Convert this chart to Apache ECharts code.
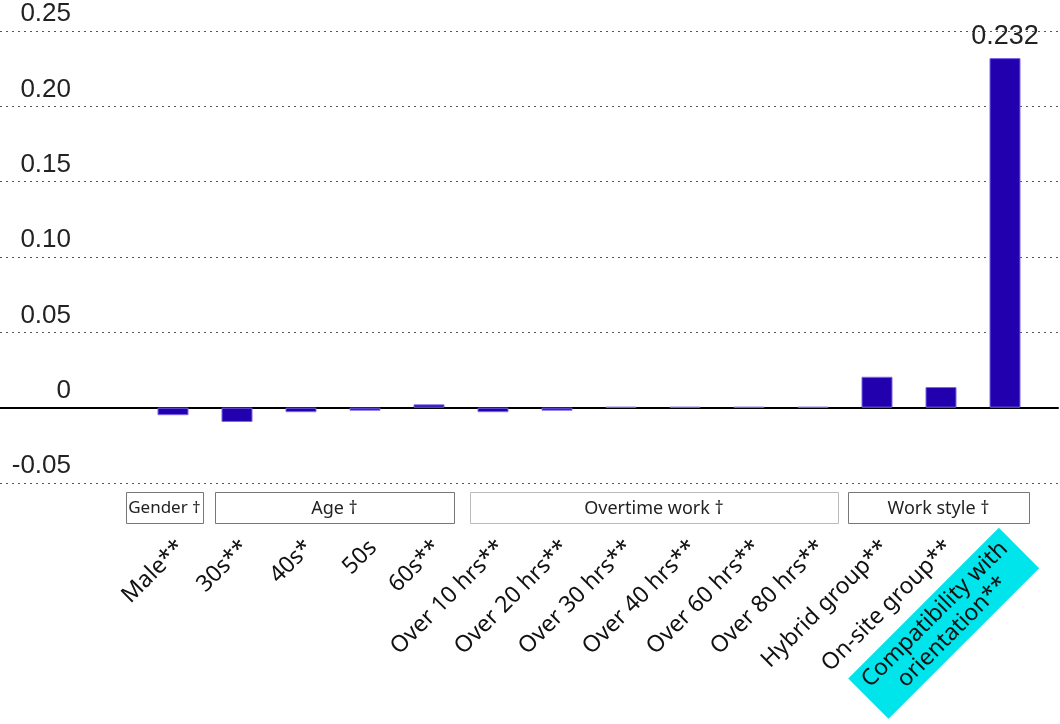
<!DOCTYPE html>
<html><head><meta charset="utf-8">
<script src="https://cdn.jsdelivr.net/npm/echarts@6/dist/echarts.min.js"></script>
<style>html,body{margin:0;padding:0;background:#fff}#c{width:1060px;height:724px}</style>
</head><body><div id="c"></div>
<script>
const categories = ['Male**','30s**','40s*','50s','60s**','Over 10 hrs**','Over 20 hrs**','Over 30 hrs**','Over 40 hrs**','Over 60 hrs**','Over 80 hrs**','Hybrid group**','On-site group**','Compatibility with\norientation**'];
const values = [-0.005,-0.0095,-0.003,-0.002,0.0022,-0.003,-0.002,0.0005,0.0005,0.0005,0.0005,0.0205,0.0137,0.232];
const labelled = [false,false,false,false,false,false,false,false,false,false,false,false,false,true];
const highlighted = [false,false,false,false,false,false,false,false,false,false,false,false,false,true];
const yMin = -0.05, yMax = 0.25, yStep = 0.05;
const groupNames = ['Gender †','Age †','Overtime work †','Work style †'];
const groupStart = [0,1,5,11];
const groupEnd = [0,4,10,13];
const groupBorder = ['#777','#777','#bbb','#777'];

const chart = echarts.init(document.getElementById('c'));
const catFont = 'Noto Sans';
const barData = values.map((v,i)=> labelled[i]
  ? {value:v, label:{show:true, position:'top', distance:8, formatter:p=>String(p.value), fontSize:27, fontFamily:'Liberation Sans', color:'#222'}}
  : v);

chart.setOption({
  animation:false,
  grid:[
    {left:0, right:2, top:31, bottom:241, outerBoundsMode:'none', containLabel:false},
    {left:141, right:23, top:31, bottom:241, outerBoundsMode:'none', containLabel:false}
  ],
  xAxis:[
    {gridIndex:0, type:'value', min:0, max:1, axisLine:{show:true, onZero:true, lineStyle:{color:'#000', width:2}}, axisTick:{show:false}, axisLabel:{show:false}, splitLine:{show:false}},
    {gridIndex:1, type:'category', data:categories, axisLine:{show:false, onZero:false}, axisTick:{show:false},
      axisLabel:{interval:0, rotate:45, margin:53, verticalAlign:'top', fontSize:23, fontFamily:catFont, color:'#111',
        formatter:(v,i)=> highlighted[i] ? '' : v
      }}
  ],
  yAxis:[
    {gridIndex:0, type:'value', min:yMin, max:yMax, interval:yStep, axisLine:{show:false}, axisTick:{show:false},
      axisLabel:{inside:true, margin:71, align:'right', verticalAlign:'bottom', padding:[0,0,4,0], fontSize:26, fontFamily:'Liberation Sans', color:'#222',
        formatter:v=> Math.abs(v)<1e-9 ? '0' : v.toFixed(2)},
      splitLine:{show:true, lineStyle:{color:'#555', width:1, type:[2,4]}}},
    {gridIndex:1, type:'value', min:yMin, max:yMax, interval:yStep, show:false, splitLine:{show:false}}
  ],
  series:[{
    type:'bar', xAxisIndex:1, yAxisIndex:1, data:barData, barWidth:31,
    itemStyle:{color:'#2200AE', borderColor:'#7A66E8', borderWidth:1}
  }]
});

// group boxes computed from category positions
const leftInset = [-15, 10, 9, 3];
const rightInset = [2, 7, 7, 8];
const c0 = chart.convertToPixel({xAxisIndex:1}, 0);
const c1 = chart.convertToPixel({xAxisIndex:1}, 1);
const half = (c1 - c0)/2;
const bottomY = chart.convertToPixel({yAxisIndex:0}, yMin);
const els = [];
groupNames.forEach((name,g)=>{
  const left = chart.convertToPixel({xAxisIndex:1}, groupStart[g]) - half + leftInset[g];
  const right = chart.convertToPixel({xAxisIndex:1}, groupEnd[g]) + half - rightInset[g];
  const top = bottomY + 9, h = 31;
  els.push({type:'rect', shape:{x:Math.round(left)+0.5, y:Math.round(top)+0.5, width:Math.round(right-left), height:h}, style:{fill:'#fff', stroke:groupBorder[g], lineWidth:1}, z:10});
  els.push({type:'text', x:(left+right)/2, y:top+h/2+1, style:{text:name, align:'center', verticalAlign:'middle', fontSize:g===0?17:18, fontFamily:catFont, fill:'#222'}, z:11});
});
// highlighted category label drawn as a rotated cyan tag anchored at its category
highlighted.forEach((hl,i)=>{
  if(!hl) return;
  const cx = chart.convertToPixel({xAxisIndex:1}, i);
  const bw = 213, bh = 57;
  els.push({type:'group', x:cx+14, y:bottomY+65, rotation:Math.PI/4, z:12, children:[
    {type:'rect', shape:{x:-bw, y:-bh/2, width:bw, height:bh}, style:{fill:'#00E4EC'}},
    {type:'text', x:-bw/2, y:0, style:{text:categories[i], align:'center', verticalAlign:'middle', fontSize:23, lineHeight:25, fontFamily:catFont, fill:'#111'}}
  ]});
});
chart.setOption({graphic:{elements:els}});
</script></body></html>
